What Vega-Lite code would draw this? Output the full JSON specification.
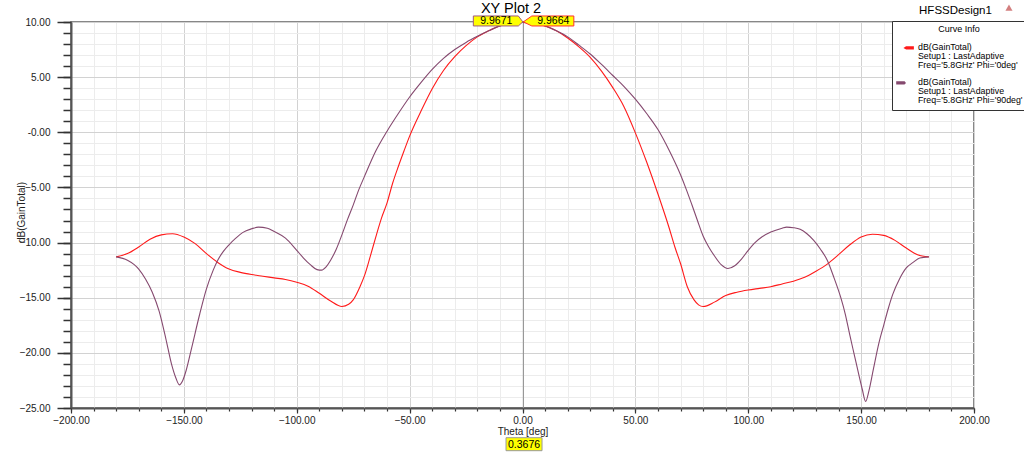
{
  "$schema": "https://vega.github.io/schema/vega-lite/v6.json",
  "width": 903,
  "height": 386,
  "autosize": {"type": "none"},
  "padding": {"left": 71, "top": 22, "right": 50, "bottom": 44},
  "background": "white",
  "config": {
    "font": "Liberation Sans",
    "view": {"stroke": "#606060", "strokeWidth": 1.5},
    "axis": {"labelFont": "Liberation Sans", "labelFontSize": 10, "labelColor": "#222", "titleFont": "Liberation Sans", "titleFontSize": 10, "titleFontWeight": "normal", "titleColor": "#222"}
  },
  "datasets": {
    "curves": [
      {"theta": -180, "gain": -11.3, "curve": "Freq='5.8GHz' Phi='0deg'"},
      {"theta": -175, "gain": -11.0, "curve": "Freq='5.8GHz' Phi='0deg'"},
      {"theta": -170, "gain": -10.4, "curve": "Freq='5.8GHz' Phi='0deg'"},
      {"theta": -165, "gain": -9.7, "curve": "Freq='5.8GHz' Phi='0deg'"},
      {"theta": -160, "gain": -9.3, "curve": "Freq='5.8GHz' Phi='0deg'"},
      {"theta": -155, "gain": -9.2, "curve": "Freq='5.8GHz' Phi='0deg'"},
      {"theta": -150, "gain": -9.5, "curve": "Freq='5.8GHz' Phi='0deg'"},
      {"theta": -145, "gain": -10.1, "curve": "Freq='5.8GHz' Phi='0deg'"},
      {"theta": -140, "gain": -11.0, "curve": "Freq='5.8GHz' Phi='0deg'"},
      {"theta": -135, "gain": -11.8, "curve": "Freq='5.8GHz' Phi='0deg'"},
      {"theta": -130, "gain": -12.4, "curve": "Freq='5.8GHz' Phi='0deg'"},
      {"theta": -125, "gain": -12.7, "curve": "Freq='5.8GHz' Phi='0deg'"},
      {"theta": -120, "gain": -12.9, "curve": "Freq='5.8GHz' Phi='0deg'"},
      {"theta": -115, "gain": -13.05, "curve": "Freq='5.8GHz' Phi='0deg'"},
      {"theta": -110, "gain": -13.2, "curve": "Freq='5.8GHz' Phi='0deg'"},
      {"theta": -105, "gain": -13.35, "curve": "Freq='5.8GHz' Phi='0deg'"},
      {"theta": -100, "gain": -13.6, "curve": "Freq='5.8GHz' Phi='0deg'"},
      {"theta": -95, "gain": -13.95, "curve": "Freq='5.8GHz' Phi='0deg'"},
      {"theta": -90, "gain": -14.6, "curve": "Freq='5.8GHz' Phi='0deg'"},
      {"theta": -85, "gain": -15.3, "curve": "Freq='5.8GHz' Phi='0deg'"},
      {"theta": -80, "gain": -15.8, "curve": "Freq='5.8GHz' Phi='0deg'"},
      {"theta": -77, "gain": -15.6, "curve": "Freq='5.8GHz' Phi='0deg'"},
      {"theta": -75, "gain": -15.2, "curve": "Freq='5.8GHz' Phi='0deg'"},
      {"theta": -72, "gain": -14.0, "curve": "Freq='5.8GHz' Phi='0deg'"},
      {"theta": -70, "gain": -13.0, "curve": "Freq='5.8GHz' Phi='0deg'"},
      {"theta": -67.5, "gain": -11.3, "curve": "Freq='5.8GHz' Phi='0deg'"},
      {"theta": -65, "gain": -9.5, "curve": "Freq='5.8GHz' Phi='0deg'"},
      {"theta": -62.5, "gain": -7.8, "curve": "Freq='5.8GHz' Phi='0deg'"},
      {"theta": -60, "gain": -6.4, "curve": "Freq='5.8GHz' Phi='0deg'"},
      {"theta": -57.5, "gain": -4.6, "curve": "Freq='5.8GHz' Phi='0deg'"},
      {"theta": -55, "gain": -3.1, "curve": "Freq='5.8GHz' Phi='0deg'"},
      {"theta": -52.5, "gain": -1.7, "curve": "Freq='5.8GHz' Phi='0deg'"},
      {"theta": -50, "gain": -0.35, "curve": "Freq='5.8GHz' Phi='0deg'"},
      {"theta": -45, "gain": 1.9, "curve": "Freq='5.8GHz' Phi='0deg'"},
      {"theta": -40, "gain": 3.95, "curve": "Freq='5.8GHz' Phi='0deg'"},
      {"theta": -35, "gain": 5.6, "curve": "Freq='5.8GHz' Phi='0deg'"},
      {"theta": -30, "gain": 6.85, "curve": "Freq='5.8GHz' Phi='0deg'"},
      {"theta": -25, "gain": 7.85, "curve": "Freq='5.8GHz' Phi='0deg'"},
      {"theta": -20, "gain": 8.65, "curve": "Freq='5.8GHz' Phi='0deg'"},
      {"theta": -15, "gain": 9.2, "curve": "Freq='5.8GHz' Phi='0deg'"},
      {"theta": -10, "gain": 9.65, "curve": "Freq='5.8GHz' Phi='0deg'"},
      {"theta": -5, "gain": 9.9, "curve": "Freq='5.8GHz' Phi='0deg'"},
      {"theta": 0, "gain": 9.966, "curve": "Freq='5.8GHz' Phi='0deg'"},
      {"theta": 5, "gain": 9.9, "curve": "Freq='5.8GHz' Phi='0deg'"},
      {"theta": 10, "gain": 9.65, "curve": "Freq='5.8GHz' Phi='0deg'"},
      {"theta": 15, "gain": 9.2, "curve": "Freq='5.8GHz' Phi='0deg'"},
      {"theta": 20, "gain": 8.55, "curve": "Freq='5.8GHz' Phi='0deg'"},
      {"theta": 25, "gain": 7.75, "curve": "Freq='5.8GHz' Phi='0deg'"},
      {"theta": 30, "gain": 6.8, "curve": "Freq='5.8GHz' Phi='0deg'"},
      {"theta": 35, "gain": 5.55, "curve": "Freq='5.8GHz' Phi='0deg'"},
      {"theta": 40, "gain": 4.05, "curve": "Freq='5.8GHz' Phi='0deg'"},
      {"theta": 45, "gain": 2.3, "curve": "Freq='5.8GHz' Phi='0deg'"},
      {"theta": 50, "gain": -0.05, "curve": "Freq='5.8GHz' Phi='0deg'"},
      {"theta": 55, "gain": -2.7, "curve": "Freq='5.8GHz' Phi='0deg'"},
      {"theta": 60, "gain": -5.6, "curve": "Freq='5.8GHz' Phi='0deg'"},
      {"theta": 65, "gain": -8.7, "curve": "Freq='5.8GHz' Phi='0deg'"},
      {"theta": 67.5, "gain": -10.4, "curve": "Freq='5.8GHz' Phi='0deg'"},
      {"theta": 70, "gain": -11.9, "curve": "Freq='5.8GHz' Phi='0deg'"},
      {"theta": 73, "gain": -14.0, "curve": "Freq='5.8GHz' Phi='0deg'"},
      {"theta": 76, "gain": -15.2, "curve": "Freq='5.8GHz' Phi='0deg'"},
      {"theta": 78, "gain": -15.65, "curve": "Freq='5.8GHz' Phi='0deg'"},
      {"theta": 80, "gain": -15.8, "curve": "Freq='5.8GHz' Phi='0deg'"},
      {"theta": 85, "gain": -15.4, "curve": "Freq='5.8GHz' Phi='0deg'"},
      {"theta": 90, "gain": -14.8, "curve": "Freq='5.8GHz' Phi='0deg'"},
      {"theta": 95, "gain": -14.5, "curve": "Freq='5.8GHz' Phi='0deg'"},
      {"theta": 100, "gain": -14.3, "curve": "Freq='5.8GHz' Phi='0deg'"},
      {"theta": 105, "gain": -14.15, "curve": "Freq='5.8GHz' Phi='0deg'"},
      {"theta": 110, "gain": -14.0, "curve": "Freq='5.8GHz' Phi='0deg'"},
      {"theta": 115, "gain": -13.75, "curve": "Freq='5.8GHz' Phi='0deg'"},
      {"theta": 120, "gain": -13.5, "curve": "Freq='5.8GHz' Phi='0deg'"},
      {"theta": 125, "gain": -13.15, "curve": "Freq='5.8GHz' Phi='0deg'"},
      {"theta": 130, "gain": -12.6, "curve": "Freq='5.8GHz' Phi='0deg'"},
      {"theta": 135, "gain": -11.95, "curve": "Freq='5.8GHz' Phi='0deg'"},
      {"theta": 140, "gain": -11.1, "curve": "Freq='5.8GHz' Phi='0deg'"},
      {"theta": 145, "gain": -10.2, "curve": "Freq='5.8GHz' Phi='0deg'"},
      {"theta": 150, "gain": -9.5, "curve": "Freq='5.8GHz' Phi='0deg'"},
      {"theta": 155, "gain": -9.25, "curve": "Freq='5.8GHz' Phi='0deg'"},
      {"theta": 160, "gain": -9.35, "curve": "Freq='5.8GHz' Phi='0deg'"},
      {"theta": 165, "gain": -9.8, "curve": "Freq='5.8GHz' Phi='0deg'"},
      {"theta": 170, "gain": -10.5, "curve": "Freq='5.8GHz' Phi='0deg'"},
      {"theta": 175, "gain": -11.1, "curve": "Freq='5.8GHz' Phi='0deg'"},
      {"theta": 180, "gain": -11.3, "curve": "Freq='5.8GHz' Phi='0deg'"},
      {"theta": -180, "gain": -11.3, "curve": "Freq='5.8GHz' Phi='90deg'"},
      {"theta": -175, "gain": -11.6, "curve": "Freq='5.8GHz' Phi='90deg'"},
      {"theta": -172, "gain": -12.0, "curve": "Freq='5.8GHz' Phi='90deg'"},
      {"theta": -170, "gain": -12.4, "curve": "Freq='5.8GHz' Phi='90deg'"},
      {"theta": -167, "gain": -13.3, "curve": "Freq='5.8GHz' Phi='90deg'"},
      {"theta": -164, "gain": -14.5, "curve": "Freq='5.8GHz' Phi='90deg'"},
      {"theta": -161, "gain": -16.2, "curve": "Freq='5.8GHz' Phi='90deg'"},
      {"theta": -158, "gain": -18.7, "curve": "Freq='5.8GHz' Phi='90deg'"},
      {"theta": -155.5, "gain": -21.0, "curve": "Freq='5.8GHz' Phi='90deg'"},
      {"theta": -153.5, "gain": -22.3, "curve": "Freq='5.8GHz' Phi='90deg'"},
      {"theta": -152, "gain": -22.9, "curve": "Freq='5.8GHz' Phi='90deg'"},
      {"theta": -150.5, "gain": -22.5, "curve": "Freq='5.8GHz' Phi='90deg'"},
      {"theta": -149, "gain": -21.6, "curve": "Freq='5.8GHz' Phi='90deg'"},
      {"theta": -146.5, "gain": -19.5, "curve": "Freq='5.8GHz' Phi='90deg'"},
      {"theta": -143, "gain": -16.5, "curve": "Freq='5.8GHz' Phi='90deg'"},
      {"theta": -140, "gain": -14.2, "curve": "Freq='5.8GHz' Phi='90deg'"},
      {"theta": -137, "gain": -12.5, "curve": "Freq='5.8GHz' Phi='90deg'"},
      {"theta": -135, "gain": -11.6, "curve": "Freq='5.8GHz' Phi='90deg'"},
      {"theta": -132.5, "gain": -10.8, "curve": "Freq='5.8GHz' Phi='90deg'"},
      {"theta": -130, "gain": -10.2, "curve": "Freq='5.8GHz' Phi='90deg'"},
      {"theta": -127, "gain": -9.6, "curve": "Freq='5.8GHz' Phi='90deg'"},
      {"theta": -124, "gain": -9.1, "curve": "Freq='5.8GHz' Phi='90deg'"},
      {"theta": -120, "gain": -8.75, "curve": "Freq='5.8GHz' Phi='90deg'"},
      {"theta": -117, "gain": -8.6, "curve": "Freq='5.8GHz' Phi='90deg'"},
      {"theta": -113, "gain": -8.7, "curve": "Freq='5.8GHz' Phi='90deg'"},
      {"theta": -110, "gain": -9.0, "curve": "Freq='5.8GHz' Phi='90deg'"},
      {"theta": -105, "gain": -9.6, "curve": "Freq='5.8GHz' Phi='90deg'"},
      {"theta": -100, "gain": -10.7, "curve": "Freq='5.8GHz' Phi='90deg'"},
      {"theta": -97, "gain": -11.4, "curve": "Freq='5.8GHz' Phi='90deg'"},
      {"theta": -94, "gain": -12.0, "curve": "Freq='5.8GHz' Phi='90deg'"},
      {"theta": -91, "gain": -12.45, "curve": "Freq='5.8GHz' Phi='90deg'"},
      {"theta": -89, "gain": -12.5, "curve": "Freq='5.8GHz' Phi='90deg'"},
      {"theta": -87, "gain": -12.2, "curve": "Freq='5.8GHz' Phi='90deg'"},
      {"theta": -85, "gain": -11.6, "curve": "Freq='5.8GHz' Phi='90deg'"},
      {"theta": -82.5, "gain": -10.6, "curve": "Freq='5.8GHz' Phi='90deg'"},
      {"theta": -80, "gain": -9.3, "curve": "Freq='5.8GHz' Phi='90deg'"},
      {"theta": -77.5, "gain": -7.9, "curve": "Freq='5.8GHz' Phi='90deg'"},
      {"theta": -75, "gain": -6.6, "curve": "Freq='5.8GHz' Phi='90deg'"},
      {"theta": -72.5, "gain": -5.2, "curve": "Freq='5.8GHz' Phi='90deg'"},
      {"theta": -70, "gain": -4.0, "curve": "Freq='5.8GHz' Phi='90deg'"},
      {"theta": -65, "gain": -1.7, "curve": "Freq='5.8GHz' Phi='90deg'"},
      {"theta": -60, "gain": 0.1, "curve": "Freq='5.8GHz' Phi='90deg'"},
      {"theta": -55, "gain": 1.7, "curve": "Freq='5.8GHz' Phi='90deg'"},
      {"theta": -50, "gain": 3.2, "curve": "Freq='5.8GHz' Phi='90deg'"},
      {"theta": -45, "gain": 4.5, "curve": "Freq='5.8GHz' Phi='90deg'"},
      {"theta": -40, "gain": 5.7, "curve": "Freq='5.8GHz' Phi='90deg'"},
      {"theta": -35, "gain": 6.7, "curve": "Freq='5.8GHz' Phi='90deg'"},
      {"theta": -30, "gain": 7.5, "curve": "Freq='5.8GHz' Phi='90deg'"},
      {"theta": -25, "gain": 8.15, "curve": "Freq='5.8GHz' Phi='90deg'"},
      {"theta": -20, "gain": 8.7, "curve": "Freq='5.8GHz' Phi='90deg'"},
      {"theta": -15, "gain": 9.2, "curve": "Freq='5.8GHz' Phi='90deg'"},
      {"theta": -10, "gain": 9.65, "curve": "Freq='5.8GHz' Phi='90deg'"},
      {"theta": -5, "gain": 9.9, "curve": "Freq='5.8GHz' Phi='90deg'"},
      {"theta": 0, "gain": 9.967, "curve": "Freq='5.8GHz' Phi='90deg'"},
      {"theta": 5, "gain": 9.9, "curve": "Freq='5.8GHz' Phi='90deg'"},
      {"theta": 10, "gain": 9.65, "curve": "Freq='5.8GHz' Phi='90deg'"},
      {"theta": 15, "gain": 9.2, "curve": "Freq='5.8GHz' Phi='90deg'"},
      {"theta": 20, "gain": 8.65, "curve": "Freq='5.8GHz' Phi='90deg'"},
      {"theta": 25, "gain": 7.9, "curve": "Freq='5.8GHz' Phi='90deg'"},
      {"theta": 30, "gain": 7.1, "curve": "Freq='5.8GHz' Phi='90deg'"},
      {"theta": 35, "gain": 6.15, "curve": "Freq='5.8GHz' Phi='90deg'"},
      {"theta": 40, "gain": 5.15, "curve": "Freq='5.8GHz' Phi='90deg'"},
      {"theta": 45, "gain": 4.15, "curve": "Freq='5.8GHz' Phi='90deg'"},
      {"theta": 50, "gain": 3.0, "curve": "Freq='5.8GHz' Phi='90deg'"},
      {"theta": 55, "gain": 1.7, "curve": "Freq='5.8GHz' Phi='90deg'"},
      {"theta": 60, "gain": 0.25, "curve": "Freq='5.8GHz' Phi='90deg'"},
      {"theta": 65, "gain": -1.65, "curve": "Freq='5.8GHz' Phi='90deg'"},
      {"theta": 70, "gain": -3.85, "curve": "Freq='5.8GHz' Phi='90deg'"},
      {"theta": 72.5, "gain": -5.15, "curve": "Freq='5.8GHz' Phi='90deg'"},
      {"theta": 75, "gain": -6.55, "curve": "Freq='5.8GHz' Phi='90deg'"},
      {"theta": 77.5, "gain": -8.0, "curve": "Freq='5.8GHz' Phi='90deg'"},
      {"theta": 80, "gain": -9.4, "curve": "Freq='5.8GHz' Phi='90deg'"},
      {"theta": 82.5, "gain": -10.4, "curve": "Freq='5.8GHz' Phi='90deg'"},
      {"theta": 85, "gain": -11.2, "curve": "Freq='5.8GHz' Phi='90deg'"},
      {"theta": 88, "gain": -12.0, "curve": "Freq='5.8GHz' Phi='90deg'"},
      {"theta": 91, "gain": -12.35, "curve": "Freq='5.8GHz' Phi='90deg'"},
      {"theta": 94, "gain": -12.1, "curve": "Freq='5.8GHz' Phi='90deg'"},
      {"theta": 97, "gain": -11.5, "curve": "Freq='5.8GHz' Phi='90deg'"},
      {"theta": 100, "gain": -10.7, "curve": "Freq='5.8GHz' Phi='90deg'"},
      {"theta": 103, "gain": -10.0, "curve": "Freq='5.8GHz' Phi='90deg'"},
      {"theta": 106, "gain": -9.5, "curve": "Freq='5.8GHz' Phi='90deg'"},
      {"theta": 110, "gain": -9.05, "curve": "Freq='5.8GHz' Phi='90deg'"},
      {"theta": 115, "gain": -8.7, "curve": "Freq='5.8GHz' Phi='90deg'"},
      {"theta": 117, "gain": -8.6, "curve": "Freq='5.8GHz' Phi='90deg'"},
      {"theta": 120, "gain": -8.65, "curve": "Freq='5.8GHz' Phi='90deg'"},
      {"theta": 123, "gain": -8.8, "curve": "Freq='5.8GHz' Phi='90deg'"},
      {"theta": 126, "gain": -9.2, "curve": "Freq='5.8GHz' Phi='90deg'"},
      {"theta": 129, "gain": -9.8, "curve": "Freq='5.8GHz' Phi='90deg'"},
      {"theta": 132, "gain": -10.6, "curve": "Freq='5.8GHz' Phi='90deg'"},
      {"theta": 135, "gain": -11.6, "curve": "Freq='5.8GHz' Phi='90deg'"},
      {"theta": 138, "gain": -13.2, "curve": "Freq='5.8GHz' Phi='90deg'"},
      {"theta": 141, "gain": -15.0, "curve": "Freq='5.8GHz' Phi='90deg'"},
      {"theta": 143, "gain": -16.5, "curve": "Freq='5.8GHz' Phi='90deg'"},
      {"theta": 145, "gain": -18.4, "curve": "Freq='5.8GHz' Phi='90deg'"},
      {"theta": 147, "gain": -20.2, "curve": "Freq='5.8GHz' Phi='90deg'"},
      {"theta": 149, "gain": -22.0, "curve": "Freq='5.8GHz' Phi='90deg'"},
      {"theta": 150.5, "gain": -23.3, "curve": "Freq='5.8GHz' Phi='90deg'"},
      {"theta": 152, "gain": -24.4, "curve": "Freq='5.8GHz' Phi='90deg'"},
      {"theta": 153.5, "gain": -23.4, "curve": "Freq='5.8GHz' Phi='90deg'"},
      {"theta": 155.5, "gain": -21.4, "curve": "Freq='5.8GHz' Phi='90deg'"},
      {"theta": 158, "gain": -19.0, "curve": "Freq='5.8GHz' Phi='90deg'"},
      {"theta": 160, "gain": -17.5, "curve": "Freq='5.8GHz' Phi='90deg'"},
      {"theta": 162, "gain": -16.0, "curve": "Freq='5.8GHz' Phi='90deg'"},
      {"theta": 164, "gain": -14.7, "curve": "Freq='5.8GHz' Phi='90deg'"},
      {"theta": 167, "gain": -13.3, "curve": "Freq='5.8GHz' Phi='90deg'"},
      {"theta": 170, "gain": -12.3, "curve": "Freq='5.8GHz' Phi='90deg'"},
      {"theta": 173, "gain": -11.8, "curve": "Freq='5.8GHz' Phi='90deg'"},
      {"theta": 176, "gain": -11.4, "curve": "Freq='5.8GHz' Phi='90deg'"},
      {"theta": 180, "gain": -11.3, "curve": "Freq='5.8GHz' Phi='90deg'"}
    ],
    "markers": [
      {"theta": 0.3676, "gain": 9.9671, "curve": "Freq='5.8GHz' Phi='90deg'", "label": "9.9671"},
      {"theta": 0.3676, "gain": 9.9664, "curve": "Freq='5.8GHz' Phi='0deg'", "label": "9.9664"}
    ],
    "xmarker": [
      {"theta": 0.3676, "gain": -25, "label": "0.3676"}
    ]
  },
  "resolve": {"axis": {"x": "independent", "y": "independent"}},
  "layer": [
    {
      "data": {"name": "curves"},
      "mark": {"type": "line", "opacity": 0},
      "encoding": {
        "x": {"field": "theta", "type": "quantitative", "scale": {"domain": [-200, 200], "nice": false, "zero": false},
          "axis": {"orient": "bottom", "values": [-200,-190,-180,-170,-160,-150,-140,-130,-120,-110,-100,-90,-80,-70,-60,-50,-40,-30,-20,-10,0,10,20,30,40,50,60,70,80,90,100,110,120,130,140,150,160,170,180,190,200],
            "grid": true, "gridColor": "#ececec", "gridWidth": 1, "labels": false, "domain": false, "ticks": true, "tickSize": 3, "tickColor": "#333", "tickWidth": 1.2, "title": null}},
        "y": {"field": "gain", "type": "quantitative", "scale": {"domain": [-25, 10], "nice": false, "zero": false},
          "axis": {"orient": "left", "values": [-25,-24,-23,-22,-21,-20,-19,-18,-17,-16,-15,-14,-13,-12,-11,-10,-9,-8,-7,-6,-5,-4,-3,-2,-1,0,1,2,3,4,5,6,7,8,9,10],
            "grid": true, "gridColor": "#ececec", "gridWidth": 1, "labels": false, "domain": false, "ticks": true, "tickSize": 8, "tickColor": "#333", "tickWidth": 1.5, "title": null}}
      }
    },
    {
      "data": {"name": "curves"},
      "mark": {"type": "line", "opacity": 0},
      "encoding": {
        "x": {"field": "theta", "type": "quantitative", "scale": {"domain": [-200, 200], "nice": false, "zero": false},
          "axis": {"orient": "bottom", "values": [-200,-150,-100,-50,0,50,100,150,200], "format": ".2f",
            "grid": true, "gridColor": "#d2d2d2", "gridWidth": 1, "ticks": true, "tickSize": 5, "tickColor": "#333", "tickWidth": 1.2,
            "domain": true, "domainColor": "#555", "domainWidth": 2, "labelPadding": 2, "labelFlush": false,
            "title": "Theta [deg]", "titlePadding": 1}},
        "y": {"field": "gain", "type": "quantitative", "scale": {"domain": [-25, 10], "nice": false, "zero": false},
          "axis": {"orient": "left", "values": [-25,-20,-15,-10,-5,0,5,10],
            "labelExpr": "datum.value === 0 ? '-0.00' : format(datum.value, '.2f')",
            "grid": true, "gridColor": "#d2d2d2", "gridWidth": 1, "ticks": true, "tickSize": 14, "tickColor": "#333", "tickWidth": 1.5,
            "domain": true, "domainColor": "#555", "domainWidth": 2, "labelPadding": 7, "labelFlush": false,
            "title": "dB(GainTotal)", "titleX": -49.5, "titleY": 190, "titleBaseline": "middle", "titleAngle": -90}}
      }
    },
    {
      "data": {"name": "xmarker"},
      "mark": {"type": "rule", "color": "#8c8c8c", "strokeWidth": 1},
      "encoding": {
        "x": {"field": "theta", "type": "quantitative", "axis": null}
      }
    },
    {
      "data": {"name": "curves"},
      "mark": {"type": "line", "strokeWidth": 1.1, "interpolate": "monotone"},
      "encoding": {
        "x": {"field": "theta", "type": "quantitative", "axis": null},
        "y": {"field": "gain", "type": "quantitative", "axis": null},
        "color": {"field": "curve", "type": "nominal",
          "scale": {"domain": ["Freq='5.8GHz' Phi='0deg'", "Freq='5.8GHz' Phi='90deg'"], "range": ["#ff1a1a", "#85496f"]},
          "legend": {"orient": "none", "legendX": 821, "legendY": -1, "title": "Curve Info", "titleAnchor": "middle",
            "titleFontSize": 9, "titleFontWeight": "normal", "titleFont": "Liberation Sans", "titleColor": "#000", "titlePadding": 5,
            "labelFontSize": 8.8, "labelFont": "Liberation Sans", "labelColor": "#000",
            "labelExpr": "['dB(GainTotal)', 'Setup1 : LastAdaptive', datum.label]",
            "labelBaseline": "top", "labelOffset": 4, "labelLimit": 200,
            "symbolType": "M-1,0L1,0", "symbolSize": 256, "symbolStrokeWidth": 1.6,
            "fillColor": "white", "strokeColor": "#333", "padding": 4, "rowPadding": 3, "offset": 0,
            "encode": {"labels": {"update": {"dy": {"value": -5}, "lineHeight": {"value": 9.2}}}}}}
      }
    },
    {
      "data": {"name": "markers"},
      "mark": {"type": "point", "filled": false, "fill": "#ffff00", "fillOpacity": 1, "strokeWidth": 1, "size": 10000, "opacity": 1},
      "encoding": {
        "x": {"field": "theta", "type": "quantitative", "axis": null},
        "y": {"field": "gain", "type": "quantitative", "axis": null},
        "shape": {"field": "curve", "type": "nominal", "legend": null,
          "scale": {"domain": ["Freq='5.8GHz' Phi='0deg'", "Freq='5.8GHz' Phi='90deg'"],
            "range": ["M0,-0.01L0.17,-0.128H1.01V0.072H0.17Z", "M-1,-0.128H-0.1L-0.01,-0.01L-0.1,0.072H-1Z"]}},
        "stroke": {"field": "curve", "type": "nominal", "legend": null,
          "scale": {"domain": ["Freq='5.8GHz' Phi='0deg'", "Freq='5.8GHz' Phi='90deg'"], "range": ["#ff3030", "#a05a80"]}}
      }
    },
    {
      "data": {"name": "markers"},
      "transform": [{"filter": "datum.label === '9.9671'"}],
      "mark": {"type": "text", "dx": -27, "dy": -1, "fontSize": 10.5, "color": "#000", "font": "Liberation Sans"},
      "encoding": {
        "x": {"field": "theta", "type": "quantitative", "axis": null},
        "y": {"field": "gain", "type": "quantitative", "axis": null},
        "text": {"field": "label"}
      }
    },
    {
      "data": {"name": "markers"},
      "transform": [{"filter": "datum.label === '9.9664'"}],
      "mark": {"type": "text", "dx": 30, "dy": -1, "fontSize": 10.5, "color": "#000", "font": "Liberation Sans"},
      "encoding": {
        "x": {"field": "theta", "type": "quantitative", "axis": null},
        "y": {"field": "gain", "type": "quantitative", "axis": null},
        "text": {"field": "label"}
      }
    },
    {
      "data": {"name": "xmarker"},
      "mark": {"type": "point", "shape": "M-0.346,0.594H0.374V0.854H-0.346Z", "size": 10000, "filled": false, "fill": "#ffff00", "fillOpacity": 1, "stroke": "#999", "strokeWidth": 1, "opacity": 1},
      "encoding": {
        "x": {"field": "theta", "type": "quantitative", "axis": null},
        "y": {"field": "gain", "type": "quantitative", "axis": null}
      }
    },
    {
      "data": {"name": "xmarker"},
      "mark": {"type": "text", "dx": 0.7, "dy": 36.5, "fontSize": 10.5, "color": "#000", "font": "Liberation Sans"},
      "encoding": {
        "x": {"field": "theta", "type": "quantitative", "axis": null},
        "y": {"field": "gain", "type": "quantitative", "axis": null},
        "text": {"field": "label"}
      }
    },
    {
      "data": {"values": [{"label": "XY Plot 2"}]},
      "mark": {"type": "text", "fontSize": 14.5, "color": "#000", "font": "Liberation Sans", "baseline": "alphabetic", "align": "center"},
      "encoding": {
        "x": {"datum": -5.1, "type": "quantitative", "axis": null},
        "y": {"datum": 10.79, "type": "quantitative", "axis": null},
        "text": {"field": "label"}
      }
    },
    {
      "data": {"values": [{"label": "HFSSDesign1"}]},
      "mark": {"type": "text", "fontSize": 11.5, "color": "#000", "font": "Liberation Sans", "baseline": "alphabetic", "align": "center"},
      "encoding": {
        "x": {"datum": 191.8, "type": "quantitative", "axis": null},
        "y": {"datum": 10.7, "type": "quantitative", "axis": null},
        "text": {"field": "label"}
      }
    },
    {
      "data": {"values": [{"icon": "warning"}]},
      "mark": {"type": "point", "shape": "triangle-up", "filled": true, "color": "#c04848", "size": 50},
      "encoding": {
        "x": {"datum": 215.5, "type": "quantitative", "axis": null},
        "y": {"datum": 11.3, "type": "quantitative", "axis": null}
      }
    }
  ]
}
